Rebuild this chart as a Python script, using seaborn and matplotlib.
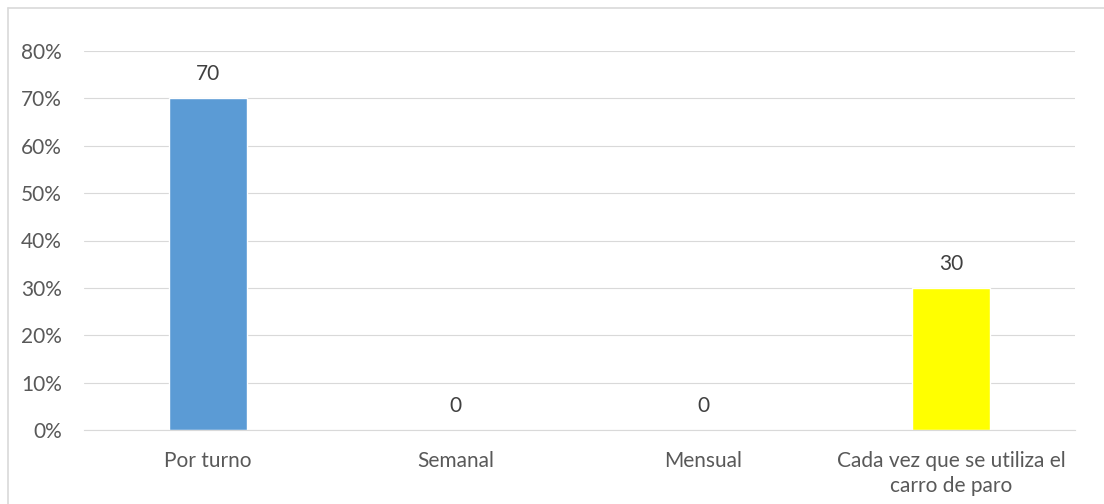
import matplotlib
matplotlib.use("Agg")
import matplotlib.pyplot as plt
import seaborn as sns
import pandas as pd
from matplotlib.lines import Line2D
from matplotlib.ticker import FuncFormatter

# datos
categorias = ["Por turno", "Semanal", "Mensual", "Cada vez que se utiliza el\ncarro de paro"]
valores = [70, 0, 0, 30]
colores = ["#5B9BD5", "#5B9BD5", "#5B9BD5", "#FFFF00"]

df = pd.DataFrame({"cat": categorias, "val": valores})

sns.set_theme(style="white")
plt.rcParams['font.family'] = ['Lato', 'DejaVu Sans']

fig = plt.figure(figsize=(11.04, 5.04), dpi=100)
ax = fig.add_axes([84 / 1104, 1 - 430 / 504, (1075 - 84) / 1104, (430 - 51) / 504])

sns.barplot(data=df, x="cat", y="val", hue="cat", palette=colores, legend=False,
            width=0.315, saturation=1, ax=ax)

for cont in ax.containers:
    ax.bar_label(cont, fmt="%.0f", padding=10, fontsize=15, color="#404040")

ax.set_ylim(0, 80)
ax.set_yticks(range(0, 81, 10))
ax.yaxis.set_major_formatter(FuncFormatter(lambda v, p: f"{v:.0f}%"))
ax.set_xlim(-0.5, len(categorias) - 0.5)
ax.grid(axis="y", color="#D9D9D9", linewidth=0.8)
ax.set_axisbelow(True)
for s in ["top", "right", "left"]:
    ax.spines[s].set_visible(False)
ax.spines["bottom"].set_color("#D9D9D9")
ax.spines["bottom"].set_linewidth(0.8)
ax.tick_params(axis="both", length=0, labelsize=15, colors="#595959")
ax.tick_params(axis="y", pad=16)
ax.tick_params(axis="x", pad=15)
for t in ax.get_xticklabels():
    t.set_linespacing(1.3)
ax.set_xlabel("")
ax.set_ylabel("")

# borde del gráfico
fig.add_artist(Line2D([8 / 1104, 1], [1 - 8 / 504, 1 - 8 / 504], color="#D9D9D9", linewidth=1.2))
fig.add_artist(Line2D([8 / 1104, 8 / 1104], [0, 1 - 8 / 504], color="#D9D9D9", linewidth=1.2))

fig.savefig("out.png", dpi=100)
